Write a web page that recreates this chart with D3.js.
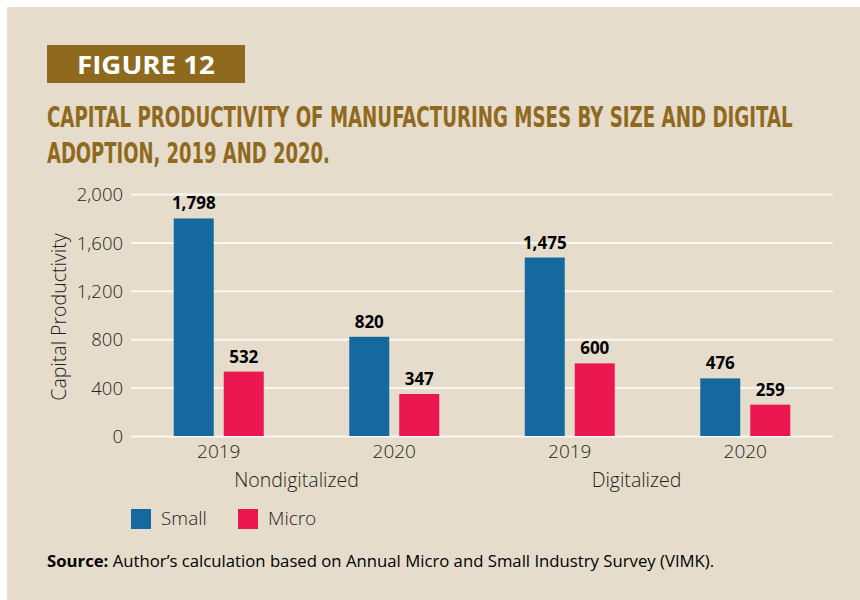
<!DOCTYPE html>
<html>
<head>
<meta charset="utf-8">
<script src="https://cdn.jsdelivr.net/npm/d3@7"></script>
<style>
  html, body { margin: 0; padding: 0; background: #ffffff; }
  svg { display: block; }
</style>
</head>
<body>
<svg id="chart" width="860" height="600"></svg>
<script>
// Capital productivity of manufacturing MSEs, by digital adoption, year and firm size
const groups = ["Nondigitalized", "Digitalized"];
const years = ["2019", "2020"];
const series = ["Small", "Micro"];
const smallValues = [1798, 820, 1475, 476];   // Nondig 2019, Nondig 2020, Dig 2019, Dig 2020
const microValues = [532, 347, 600, 259];
const yTicks = [0, 400, 800, 1200, 1600, 2000];

const colors = { Small: "#16699f", Micro: "#eb1751" };
const brown = "#8f6a1e";
const ink = "#231f20";
const sans = "'Open Sans', 'Noto Sans', sans-serif";
const narrow = "'Liberation Sans Narrow', 'DejaVu Sans Condensed', 'Open Sans', sans-serif";

// one row per group/year cell
const cells = [];
groups.forEach((g, gi) => years.forEach((yr, yi) => {
  const i = gi * years.length + yi;
  cells.push({ key: g + "-" + yr, group: g, year: yr, Small: smallValues[i], Micro: microValues[i] });
}));

const svg = d3.select("#chart");

// panel
svg.append("rect").attr("x", 7).attr("y", 7).attr("width", 853).attr("height", 593).attr("fill", "#e6dccb");

// squeeze a text horizontally so it spans the given width
function fitWidth(sel, x0, y0, width) {
  sel.each(function () {
    const natural = this.getComputedTextLength();
    const k = natural > 0 ? width / natural : 1;
    d3.select(this).attr("x", 0).attr("y", 0)
      .attr("transform", `translate(${x0},${y0}) scale(${k},1)`);
  });
}

// figure tag
svg.append("rect").attr("x", 47).attr("y", 45).attr("width", 198).attr("height", 38).attr("fill", brown);
svg.append("text")
  .attr("fill", "#ffffff").attr("font-family", sans).attr("font-weight", 700).attr("font-size", 25)
  .text("FIGURE 12")
  .call(fitWidth, 77, 74, 138);

// title
const titleLines = [
  { text: "CAPITAL PRODUCTIVITY OF MANUFACTURING MSES BY SIZE AND DIGITAL", y: 127, w: 746 },
  { text: "ADOPTION, 2019 AND 2020.", y: 163, w: 283 }
];
svg.selectAll("text.title").data(titleLines).join("text")
  .attr("class", "title")
  .attr("fill", brown).attr("font-family", narrow).attr("font-weight", 700).attr("font-size", 29)
  .text(d => d.text)
  .each(function (d) { d3.select(this).call(fitWidth, 47, d.y, d.w); });

// scales
const x = d3.scaleBand().domain(cells.map(d => d.key)).range([131, 833]).padding(0);
const xs = d3.scaleBand().domain(series).range([-45, 45]).paddingInner(0.2);
const y = d3.scaleLinear().domain([0, 2000]).range([436, 194]);

// gridlines
const yAxis = d3.axisLeft(y).tickValues(yTicks).tickSize(-(833 - 131)).tickPadding(8)
  .tickFormat(d3.format(","));
const gy = svg.append("g").attr("transform", "translate(131,0)").call(yAxis);
gy.select(".domain").remove();
gy.selectAll(".tick line").attr("stroke", "#fbf8f2").attr("stroke-width", 2);
gy.selectAll(".tick text")
  .attr("fill", ink).attr("font-family", sans).attr("font-weight", 300).attr("font-size", 18.5)
  .attr("x", -8).attr("dy", "0.36em");

// y axis title
svg.append("text")
  .attr("transform", "translate(66,317) rotate(-90)")
  .attr("text-anchor", "middle")
  .attr("fill", ink).attr("font-family", sans).attr("font-weight", 300).attr("font-size", 19.5)
  .text("Capital Productivity");

// bars
const cellG = svg.selectAll("g.cell").data(cells).join("g")
  .attr("class", "cell")
  .attr("transform", d => `translate(${x(d.key) + x.bandwidth() / 2},0)`);

const barData = d => series.map(s => ({ s, v: d[s] }));

cellG.selectAll("rect").data(barData).join("rect")
  .attr("x", d => xs(d.s)).attr("width", xs.bandwidth())
  .attr("y", d => y(d.v)).attr("height", d => y(0) - y(d.v))
  .attr("fill", d => colors[d.s]);

cellG.selectAll("text.val").data(barData).join("text")
  .attr("class", "val")
  .attr("x", d => xs(d.s) + xs.bandwidth() / 2)
  .attr("y", d => y(d.v) - 9)
  .attr("text-anchor", "middle")
  .attr("fill", "#000").attr("font-family", sans).attr("font-weight", 700).attr("font-size", 17)
  .text(d => d3.format(",")(d.v));

// year labels
cellG.append("text")
  .attr("y", 458).attr("text-anchor", "middle")
  .attr("fill", ink).attr("font-family", sans).attr("font-weight", 300).attr("font-size", 19)
  .text(d => d.year);

// group labels, set slightly left of the group centre
const groupShift = [-10, -21];
groups.forEach((g, gi) => {
  const first = x(g + "-" + years[0]);
  const last = x(g + "-" + years[years.length - 1]) + x.bandwidth();
  svg.append("text")
    .attr("x", (first + last) / 2 + groupShift[gi]).attr("y", 487)
    .attr("text-anchor", "middle")
    .attr("fill", ink).attr("font-family", sans).attr("font-weight", 300).attr("font-size", 19.5)
    .text(g);
});

// legend
const legendX = [131, 238];
const lg = svg.selectAll("g.legend").data(series).join("g")
  .attr("class", "legend")
  .attr("transform", (d, i) => `translate(${legendX[i]},509)`);
lg.append("rect").attr("width", 20).attr("height", 20).attr("fill", d => colors[d]);
lg.append("text").attr("x", 30).attr("y", 16)
  .attr("fill", ink).attr("font-family", sans).attr("font-weight", 300).attr("font-size", 19)
  .text(d => d);

// source note
const src = svg.append("text")
  .attr("fill", "#000").attr("font-family", sans).attr("font-size", 15.5);
src.append("tspan").attr("font-weight", 700).text("Source:");
src.append("tspan").text(" Author\u2019s calculation based on Annual Micro and Small Industry Survey (VIMK).");
src.call(fitWidth, 47, 567, 668);
</script>
</body>
</html>
